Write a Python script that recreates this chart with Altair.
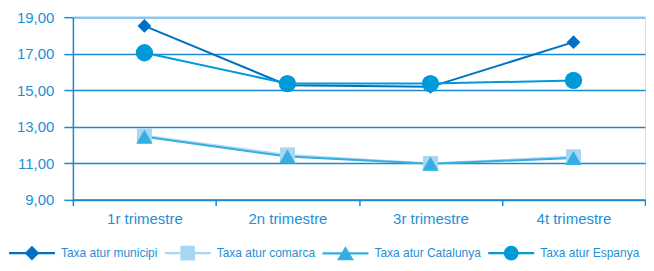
import altair as alt
import pandas as pd

quarters = ["1r trimestre", "2n trimestre", "3r trimestre", "4t trimestre"]
series = ["Taxa atur municipi", "Taxa atur comarca", "Taxa atur Catalunya", "Taxa atur Espanya"]
municipi = [18.52, 15.27, 15.18, 17.63]
comarca = [12.50, 11.45, 10.98, 11.35]
catalunya = [12.44, 11.36, 10.96, 11.28]
espanya = [17.05, 15.36, 15.36, 15.53]
y_ticks = [9, 11, 13, 15, 17, 19]

colors = ["#0071c2", "#a9d6f2", "#35aee2", "#009ad9"]
shapes = ["diamond", "square", "triangle-up", "circle"]
sizes = [190, 300, 230, 324]

bar = "M-2.875,-0.13H2.875V0.13H-2.875Z "
legend_paths = [
    bar + "M0,-0.92L0.92,0L0,0.92L-0.92,0Z",
    bar + "M-0.92,-0.92H0.92V0.92H-0.92Z",
    bar + "M0,-0.9L1.05,0.85L-1.05,0.85Z",
    bar + "M0.92,0A0.92,0.92 0 1,1 -0.92,0A0.92,0.92 0 1,1 0.92,0Z",
]

values = {
    "Taxa atur municipi": municipi,
    "Taxa atur comarca": comarca,
    "Taxa atur Catalunya": catalunya,
    "Taxa atur Espanya": espanya,
}
draw_order = ["Taxa atur comarca", "Taxa atur Catalunya", "Taxa atur municipi", "Taxa atur Espanya"]
rows = []
for s in draw_order:
    for q, v in zip(quarters, values[s]):
        rows.append({"trimestre": q, "serie": s, "valor": v})
df = pd.DataFrame(rows)

blue = "#1a8ad4"
text_blue = "#1f8fd6"

x_enc = alt.X(
    "trimestre:N",
    sort=quarters,
    scale=alt.Scale(type="band", paddingInner=0, paddingOuter=0),
    axis=alt.Axis(
        title=None, tickBand="extent", grid=False, labelAngle=0,
        labelFont="Liberation Sans", labelFontSize=15, labelColor=text_blue,
        labelPadding=6, tickSize=6, tickColor=blue, tickWidth=1.5,
        domainColor=blue, domainWidth=1.5,
    ),
)
y_enc = alt.Y(
    "valor:Q",
    scale=alt.Scale(domain=[9, 19], nice=False, zero=False),
    axis=alt.Axis(
        title=None, values=y_ticks,
        labelExpr="replace(format(datum.value, '.2f'), '.', ',')",
        labelFont="Liberation Sans", labelFontSize=15, labelColor=text_blue,
        labelPadding=10, tickSize=9, tickColor=blue, tickWidth=1.5,
        domainColor=blue, domainWidth=1.5,
        gridColor={"condition": {"test": "datum.value == 19", "value": "#8cc8ee"}, "value": blue},
        gridWidth={"condition": {"test": "datum.value == 19", "value": 2.5}, "value": 1.5},
    ),
)

color_scale = alt.Scale(domain=series, range=colors)

lines = alt.Chart(df).mark_line(strokeWidth=2).encode(
    x=x_enc, y=y_enc,
    color=alt.Color("serie:N", scale=color_scale, legend=None),
    detail="serie:N",
)

points = alt.Chart(df).mark_point(filled=True, opacity=1).encode(
    x=x_enc, y=y_enc,
    color=alt.Color("serie:N", scale=color_scale, legend=None),
    shape=alt.Shape("serie:N", scale=alt.Scale(domain=series, range=shapes), legend=None),
    size=alt.Size("serie:N", scale=alt.Scale(domain=series, range=sizes), legend=None),
)

leg = dict(
    title=None, orient="none", legendX=-49, legendY=228, direction="horizontal",
    symbolSize=256, symbolStrokeWidth=0, labelFont="Liberation Sans",
    labelFontSize=12, labelColor=text_blue, labelOffset=21, columnPadding=7,
    padding=0, symbolOpacity=1,
)

legend_layer = alt.Chart(df).transform_filter("false").mark_point(
    filled=True, opacity=1, size=256
).encode(
    x=x_enc, y=y_enc,
    color=alt.Color("serie:N", scale=alt.Scale(domain=series, range=colors), legend=alt.Legend(**leg)),
    shape=alt.Shape("serie:N", scale=alt.Scale(domain=series, range=legend_paths), legend=alt.Legend(**leg)),
)

chart = alt.layer(lines, points, legend_layer).resolve_scale(
    color="independent", shape="independent"
).properties(
    width=573, height=182.7,
    padding={"left": 8, "top": 2, "right": 0, "bottom": 0},
).configure_view(stroke=None).configure(background="white")

chart.save("out.html", embed_options={"renderer": "svg", "actions": False})
